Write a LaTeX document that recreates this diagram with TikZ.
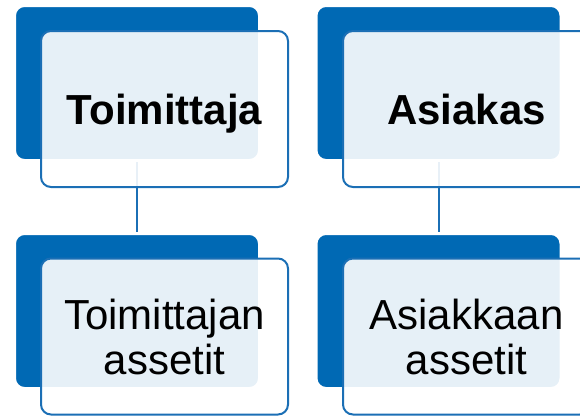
\documentclass[tikz,border=0pt]{standalone}
\usepackage{fontspec}
\setmainfont{Liberation Sans}
\usetikzlibrary{shadows}
\definecolor{dblue}{HTML}{0069B4}
\definecolor{lblue}{HTML}{1B6FB5}
\tikzset{
  back/.style={draw=white, line width=3pt, fill=dblue, rounded corners=10pt, minimum width=245pt, minimum height=155pt, inner sep=0pt,
    drop shadow={opacity=0.18, shadow xshift=0pt, shadow yshift=-1pt}},
  card/.style={draw=lblue, line width=2pt, fill=white, fill opacity=0.9, text opacity=1, rounded corners=10pt, minimum width=247pt, minimum height=156pt, inner sep=0pt, align=center, text depth=0pt},
  link/.style={draw=lblue, line width=2pt}}

\begin{document}
\begin{tikzpicture}[x=1pt, y=-1pt, font=\fontsize{42}{45}\selectfont]
\useasboundingbox (0,0) rectangle (580,415);
\node[back] (dsup) at (137,83) {};
\node[back] (dcus) at (438.5,83) {};
\node[back] (dsupa) at (137,311) {};
\node[back] (dcusa) at (438.5,311) {};
\draw[link] (dsup.south) -- (dsupa.north);
\draw[link] (dcus.south) -- (dcusa.north);
\node[card, font=\fontsize{42}{45}\selectfont\bfseries] (sup) at (164.5,109) {Toimittaja};
\node[card, font=\fontsize{42}{45}\selectfont\bfseries] (cus) at (466.5,109) {Asiakas};
\node[card] (supa) at (164.5,336.5) {Toimittajan\\assetit};
\node[card] (cusa) at (466.5,336.5) {Asiakkaan\\assetit};
\end{tikzpicture}
\end{document}
